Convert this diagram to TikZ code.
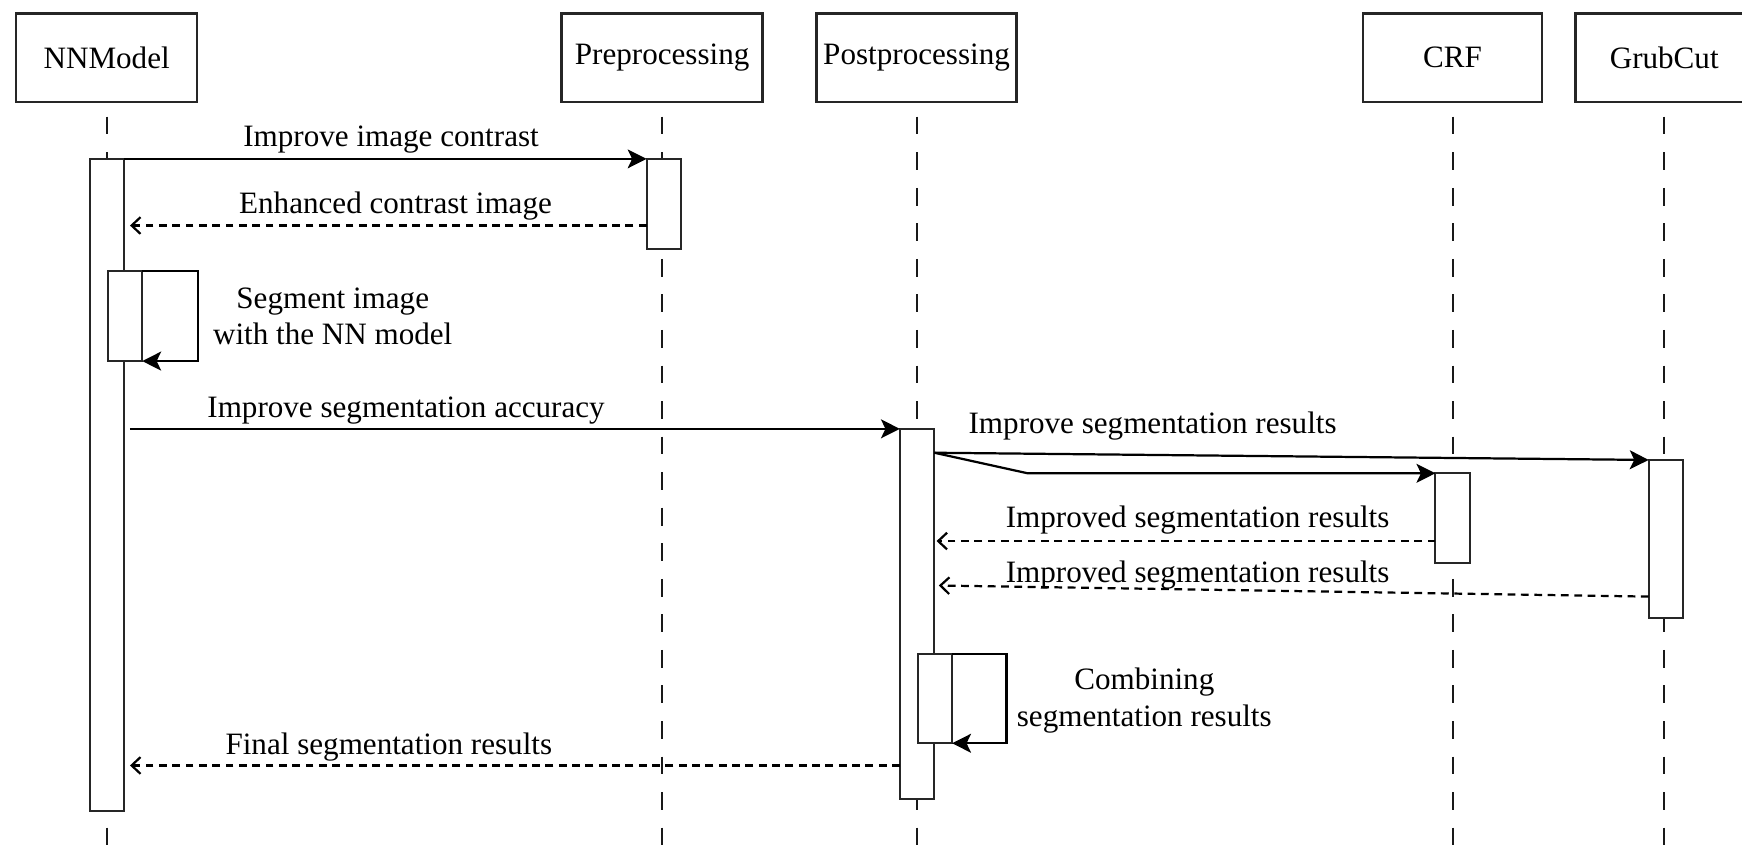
\documentclass[tikz,border=0pt]{standalone}
\usepackage{fontspec}
\setmainfont{Liberation Serif}
\usetikzlibrary{arrows.meta,calc}
\begin{document}
\begin{tikzpicture}[x=0.5pt,y=-0.5pt,
  font=\fontsize{14pt}{16.5pt}\selectfont,
  head/.style={draw=black!85,line width=1.1pt,minimum height=40pt,inner sep=0pt,outer sep=0pt},
  lifeline/.style={draw=black!90,line width=0.9pt,dash pattern=on 8pt off 8pt},
  bar/.style={draw=black!85,fill=white,line width=0.9pt,minimum width=15.5pt,inner sep=0pt,outer sep=0pt},
  msg/.style={line width=1pt,-{Stealth[length=8.5pt,width=8.5pt,inset=2pt]}},
  ret/.style={line width=1pt,dash pattern=on 3.5pt off 2.5pt,-{Straight Barb[length=4pt,width=7.5pt]}},
  lbl/.style={anchor=base,inner sep=0pt,align=center},
]
\useasboundingbox (0,0) rectangle (1568,768);
\coordinate (bottom) at (0,768);

% participants
\node[head,minimum width=81.5pt] (nn)   at (96,52)     {NNModel};
\node[head,minimum width=90.5pt] (pre)  at (596,52)    {Preprocessing};
\node[head,minimum width=90pt]   (post) at (825,52)    {Postprocessing};
\node[head,minimum width=80.5pt] (crf)  at (1307.5,52) {CRF};
\node[head,minimum width=80pt]   (grub) at (1498,52)   {GrubCut};

% lifelines
\foreach \h in {nn,pre,post,crf,grub}
  \draw[lifeline] ($(\h.south)+(0,13)$) -- (\h.south |- bottom);

% activation bars
\node[bar,minimum height=293.5pt] (nnA)   at (96.5,436.5)  {};
\node[bar,minimum height=40.5pt]  (preA)  at (597.5,183.5) {};
\node[bar,minimum height=40.5pt]  (nnS)   at (112.5,284.5) {};
\node[bar,minimum height=166.5pt] (postA) at (825.5,552.5) {};
\node[bar,minimum height=40.5pt]  (crfA)  at (1307.5,466.5){};
\node[bar,minimum height=71pt]    (grubA) at (1499.5,485)  {};
\node[bar,minimum height=40pt]    (postS) at (841.5,629)   {};

% messages
\draw[msg] (nnA.north east) -- (preA.north west);
\node[lbl] (l1) at (352,132) {Improve image contrast};

\draw[ret] (preA.west |- 0,203) -- ($(nnA.east |- 0,203)+(5,0)$);
\node[lbl] (l2) at (356,192) {Enhanced contrast image};

\draw[msg] (nnS.north east) -- ++(50,0) |- (nnS.south east);
\node[lbl] (l3) at (299.5,310.5) {Segment image\\with the NN model};

\draw[msg] ($(nnA.east |- postA.north west)+(5,0)$) -- (postA.north west);
\node[lbl] (l4) at (365.5,376) {Improve segmentation accuracy};

\draw[msg] (postA.east |- 0,407.5) -- (grubA.north west);
\draw[msg] (postA.east |- 0,407.5) -- (925,426) -- (crfA.north west);
\node[lbl] (l5) at (1037.5,390) {Improve segmentation results};

\draw[ret] (crfA.west |- 0,487) -- ($(postA.east |- 0,487)+(2,0)$);
\node[lbl] (l6) at (1078,475) {Improved segmentation results};

\draw[ret] (grubA.west |- 0,537) -- ($(postA.east |- 0,527)+(4,0)$);
\node[lbl] (l7) at (1078,524.5) {Improved segmentation results};

\draw[msg] (postS.north east) -- ++(49,0) |- (postS.south east);
\node[lbl] (l8) at (1030,654) {Combining\\segmentation results};

\draw[ret] (postA.west |- 0,689) -- ($(nnA.east |- 0,689)+(5,0)$);
\node[lbl] (l9) at (350,679.5) {Final segmentation results};
\end{tikzpicture}
\end{document}
